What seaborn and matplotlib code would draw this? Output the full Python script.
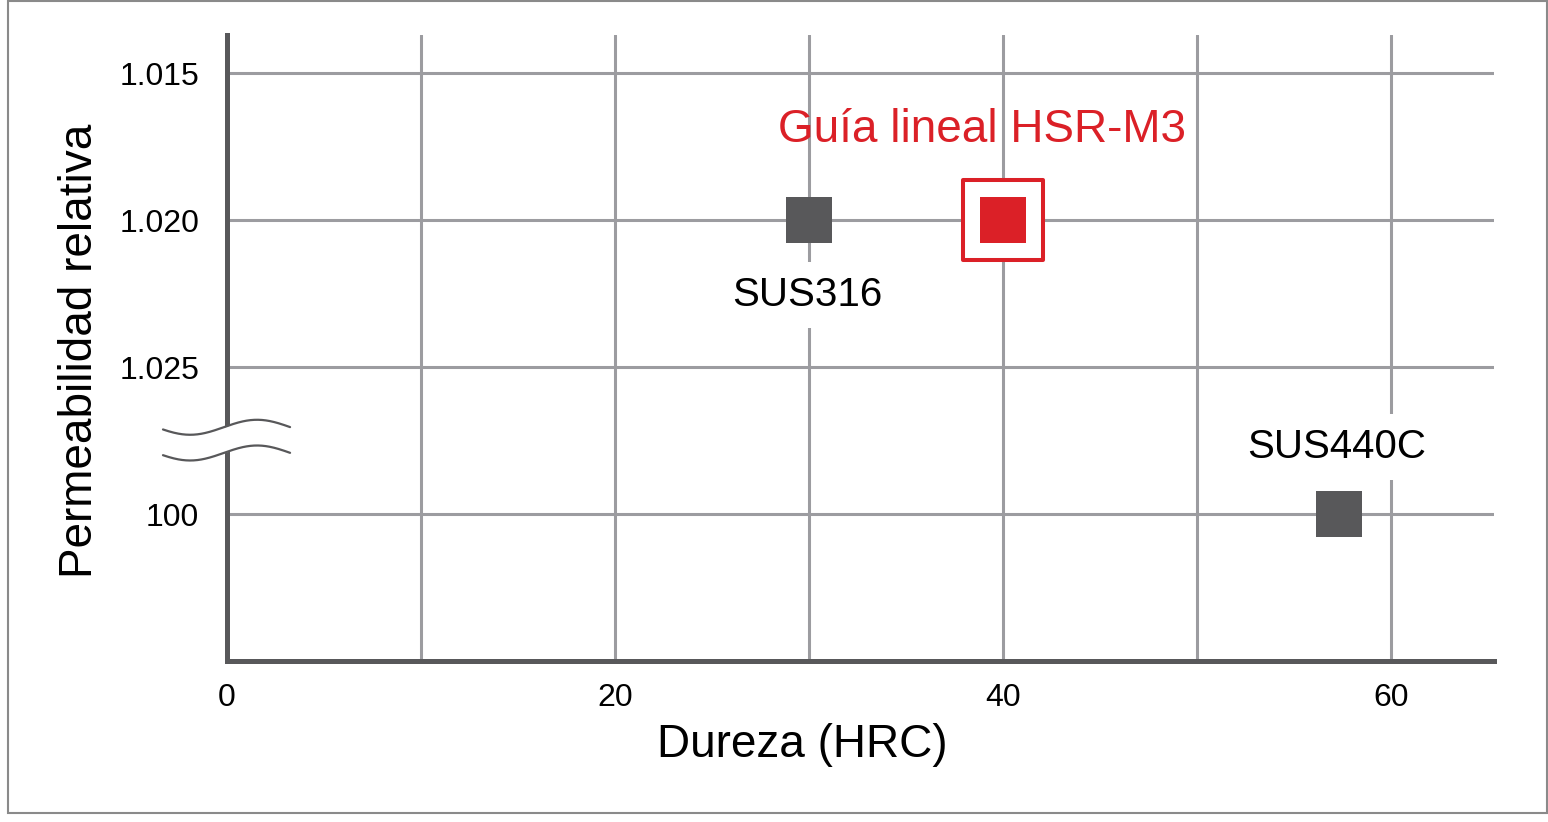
import numpy as np
import pandas as pd
import seaborn as sns
import matplotlib.pyplot as plt
from matplotlib.patches import Rectangle

# datos
materiales = ['SUS316', 'Guía lineal HSR-M3', 'SUS440C']
dureza = [30, 40, 57.3]
permeabilidad = ['1.020', '1.020', '100']

# niveles del eje y (de abajo hacia arriba, con corte entre 100 y 1.025)
y_niveles = ['100', '1.025', '1.020', '1.015']
x_ticks = [0, 20, 40, 60]
x_grid = [0, 10, 20, 30, 40, 50, 60]

gris = '#58585a'
rojo = '#db2027'
rejilla = '#9c9ca0'

pos = {lvl: i + 1 for i, lvl in enumerate(y_niveles)}
df = pd.DataFrame({'material': materiales, 'dureza': dureza,
                   'y': [pos[p] for p in permeabilidad]})

sns.set_style('white')
plt.rcParams['font.family'] = ['Liberation Sans', 'DejaVu Sans']
plt.rcParams['text.color'] = 'black'

fig = plt.figure(figsize=(15.48, 8.22), dpi=100)
ax = fig.add_axes([227/1548, 1 - 661/822, (1494-227)/1548, (661-35)/822])

ax.set_xlim(0, 65.3)
ax.set_ylim(0, (661-35)/147)

# rejilla
for xg in x_grid:
    ax.axvline(xg, color=rejilla, lw=2.2, zorder=1)
for yg in range(1, len(y_niveles) + 1):
    ax.axhline(yg, color=rejilla, lw=2.2, zorder=1)

gray_df = df[df['material'] != 'Guía lineal HSR-M3']
hsr_df = df[df['material'] == 'Guía lineal HSR-M3']

sns.scatterplot(data=gray_df, x='dureza', y='y', marker='s', s=33**2,
                color=gris, linewidth=0, ax=ax, zorder=5)
sns.scatterplot(data=hsr_df, x='dureza', y='y', marker='s', s=57.5**2,
                facecolor='white', edgecolor=rojo, linewidth=2.9, ax=ax, zorder=5)
sns.scatterplot(data=hsr_df, x='dureza', y='y', marker='s', s=32.5**2,
                color=rojo, linewidth=0, ax=ax, zorder=6)

caja = dict(facecolor='white', edgecolor='none', pad=10)
r = df.set_index('material')
ax.text(r.loc['SUS316', 'dureza'] - 0.1, r.loc['SUS316', 'y'] - 0.51, 'SUS316',
        fontsize=29, ha='center', va='center', bbox=caja, zorder=4, color='black')
ax.text(r.loc['SUS440C', 'dureza'] - 0.1, r.loc['SUS440C', 'y'] + 0.456, 'SUS440C',
        fontsize=29, ha='center', va='center', bbox=caja, zorder=4, color='black')
ax.text(r.loc['Guía lineal HSR-M3', 'dureza'] - 1.1, r.loc['Guía lineal HSR-M3', 'y'] + 0.61,
        'Guía lineal HSR-M3', fontsize=33, color=rojo, ha='center', va='center', zorder=4)

ax.set_xticks(x_ticks)
ax.set_xticklabels([str(t) for t in x_ticks])
ax.set_yticks(range(1, len(y_niveles) + 1))
ax.set_yticklabels(y_niveles)
ax.tick_params(axis='both', length=0, labelsize=23, labelcolor='black')
ax.tick_params(axis='x', pad=16)
ax.tick_params(axis='y', pad=20)

ax.set_xlabel('Dureza (HRC)', fontsize=33, color='black')
ax.set_ylabel('Permeabilidad relativa', fontsize=33, color='black')
ax.xaxis.set_label_coords((802-227)/(1494-227), -(745-661)/(661-35), transform=ax.transAxes)
ax.yaxis.set_label_coords(-(227-80)/(1494-227), (661-351)/(661-35), transform=ax.transAxes)
ax.xaxis.label.set_va('center')
ax.yaxis.label.set_va('center')

sns.despine(ax=ax)
for lado in ['left', 'bottom']:
    ax.spines[lado].set_color(gris)
    ax.spines[lado].set_linewidth(3.6)
    ax.spines[lado].set_zorder(3)

# marca de corte del eje
xw = np.linspace(-3.3, 3.25, 200)
onda = 0.051 * np.cos(2 * np.pi * (xw - 1.55) / 6.9)
y1 = 1.59 + onda
y2 = 1.415 + onda
ax.fill_between(xw, y2, y1, color='white', zorder=7, clip_on=False, lw=0)
ax.plot(xw, y1, color=gris, lw=1.6, zorder=8, clip_on=False)
ax.plot(xw, y2, color=gris, lw=1.6, zorder=8, clip_on=False)

# marco exterior
fig.patches.append(Rectangle((8/1548, 1 - 813/822), (1547-8)/1548, (813-1)/822,
                             transform=fig.transFigure, fill=False,
                             edgecolor='#8a8a8a', lw=1.5))

fig.savefig('out.png', dpi=100)
